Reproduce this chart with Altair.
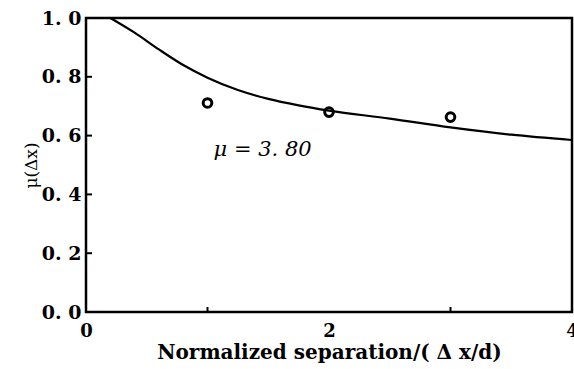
import altair as alt
import pandas as pd

curve_x = [0.2, 0.4, 0.6, 0.8, 1.0, 1.25, 1.5, 1.75, 2.0, 2.5, 3.0, 3.5, 4.0]
curve_y = [1.0, 0.95, 0.893, 0.84, 0.797, 0.755, 0.725, 0.703, 0.685, 0.658, 0.628, 0.603, 0.585]
pts_x = [1.0, 2.0, 3.0]
pts_y = [0.711, 0.68, 0.663]
y_ticks = [0.0, 0.2, 0.4, 0.6, 0.8, 1.0]
x_labels = [0, 2, 4]
x_minor = [1, 3]
annot = ["μ = 3. 80"]

W, H = 486, 294
FONT = "DejaVu Serif"

xs = alt.Scale(domain=[0, 4], nice=False, zero=False)
ys = alt.Scale(domain=[0, 1], nice=False, zero=False)

curve_df = pd.DataFrame({"x": curve_x, "y": curve_y})
pts_df = pd.DataFrame({"x": pts_x, "y": pts_y})

line = alt.Chart(curve_df).mark_line(color="black", strokeWidth=2.2, interpolate="monotone").encode(
    x=alt.X("x:Q", scale=xs,
            axis=alt.Axis(values=x_labels, format="d", title="Normalized separation/( Δ x/d)",
                          labelFont=FONT, labelFontSize=18, labelFontWeight="bold",
                          titleFont=FONT, titleFontSize=20, titleFontWeight="bold",
                          titleColor="black", labelColor="black", labelFlush=False,
                          ticks=False, domain=False, grid=False, labelPadding=10,
                          titlePadding=2)),
    y=alt.Y("y:Q", scale=ys,
            axis=alt.Axis(values=y_ticks, title="μ(Δx)",
                          labelExpr="replace(format(datum.value, '.1f'), '.', '. ')",
                          labelFont=FONT, labelFontSize=19, labelFontWeight="bold",
                          titleFont=FONT, titleFontSize=17, titleFontWeight="normal",
                          titleColor="black", labelFlush=False,
                          labelColor="black", ticks=False, domain=False, grid=False,
                          labelPadding=5, titlePadding=1)),
)

points = alt.Chart(pts_df).mark_point(shape="circle", filled=False, color="black", opacity=1,
                                      size=75, strokeWidth=3).encode(
    x=alt.X("x:Q", scale=xs), y=alt.Y("y:Q", scale=ys))

ytick_df = pd.DataFrame({"y": y_ticks[1:-1]})
yt = alt.Chart(ytick_df).mark_rule(color="black", strokeWidth=2).encode(
    y=alt.Y("y:Q", scale=ys), x=alt.value(0), x2=alt.value(6))

xtick_df = pd.DataFrame({"x": x_minor})
xt = alt.Chart(xtick_df).mark_rule(color="black", strokeWidth=2).encode(
    x=alt.X("x:Q", scale=xs), y=alt.value(H), y2=alt.value(H - 5))

frame = alt.Chart(pd.DataFrame({"k": [0]})).mark_rect(
    fill=None, fillOpacity=0, stroke="black", strokeWidth=2.5).encode(
    x=alt.value(0), x2=alt.value(W), y=alt.value(0), y2=alt.value(H))

ann_df = pd.DataFrame({"x": [1.05], "y": [0.55], "t": annot})
txt = alt.Chart(ann_df).mark_text(font="DejaVu Serif", fontSize=21, fontStyle="italic", align="left",
                                  baseline="middle", color="black").encode(
    x=alt.X("x:Q", scale=xs), y=alt.Y("y:Q", scale=ys), text="t:N")

chart = alt.layer(line, points, yt, xt, frame, txt).properties(
    width=W, height=H,
    autosize=alt.AutoSizeParams(type="none"),
    padding={"left": 86, "top": 18, "right": 2, "bottom": 57},
).configure_view(stroke=None).configure(background="white")

chart.save("out.html", embed_options={"renderer": "svg", "actions": False})
